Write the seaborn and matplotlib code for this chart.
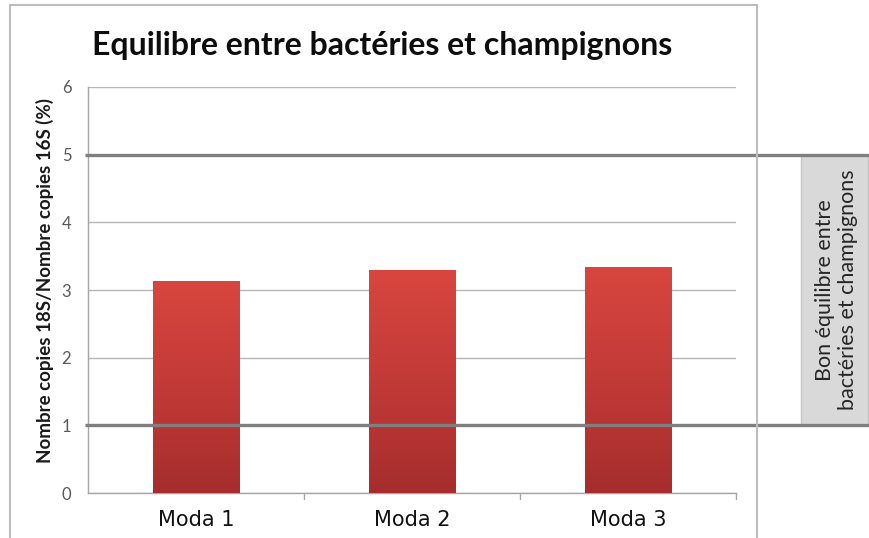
import matplotlib
matplotlib.use("Agg")
import matplotlib.pyplot as plt
import numpy as np
import pandas as pd
import seaborn as sns
from matplotlib.patches import Rectangle
from matplotlib.lines import Line2D
from matplotlib.colors import LinearSegmentedColormap

# data
categories = ["Moda 1", "Moda 2", "Moda 3"]
ratios = [3.14, 3.29, 3.34]
limits = [1, 5]          # band of good balance
yticks = [0, 1, 2, 3, 4, 5, 6]

df = pd.DataFrame({"moda": categories, "ratio": ratios})

sns.set_style("white")
plt.rcParams["font.family"] = ["Lato", "DejaVu Sans"]

fig = plt.figure(figsize=(8.7, 5.38), dpi=100)
ax = fig.add_axes([0.1011, 0.0836, 0.7448, 0.7547])

sns.barplot(data=df, x="moda", y="ratio", color="#c83a37", width=0.4,
            ax=ax, zorder=3)

# red gradient inside each bar
cmap = LinearSegmentedColormap.from_list("red", ["#a52d2d", "#c23a37", "#d8463f"])
grad = np.linspace(0, 1, 256).reshape(-1, 1)
for p in ax.patches:
    x0, y0 = p.get_x(), p.get_y()
    w, h = p.get_width(), p.get_height()
    im = ax.imshow(grad, cmap=cmap, origin="lower", aspect="auto",
                   extent=[x0, x0 + w, y0, y0 + h], zorder=4)
    im.set_clip_path(p)
    p.set_edgecolor("#9e2c2c")
    p.set_linewidth(0.6)

ax.set_xlim(-0.5, 2.5)
ax.set_ylim(0, 6)
ax.set_yticks(yticks)
ax.set_xlabel("")
ax.set_ylabel("")
ax.yaxis.grid(True, color="#b5b5b5", lw=1.0, zorder=0)
ax.xaxis.grid(False)
ax.set_axisbelow(True)

for s in ["top", "right"]:
    ax.spines[s].set_visible(False)
for s in ["left", "bottom"]:
    ax.spines[s].set_color("#a6a6a6")
    ax.spines[s].set_linewidth(1.0)

ax.tick_params(axis="y", length=4, color="#a6a6a6", pad=8,
               labelsize=12, labelcolor="#595959")
ax.set_xticks(range(len(categories)))
ax.set_xticklabels(categories, family="DejaVu Sans", fontsize=15, color="#111111")
ax.tick_params(axis="x", length=0, pad=12)
# ticks between categories
for b in [0.5, 1.5, 2.5]:
    ax.plot([b, b], [0, -0.09], color="#a6a6a6", lw=1.0, clip_on=False)

# thick lines at the band limits, running past the chart
ytr = ax.get_yaxis_transform()
for v in limits:
    ax.plot([-0.005, 1.21], [v, v], color="#7f7f7f", lw=2.4,
            transform=ytr, clip_on=False, zorder=6, solid_capstyle="butt")

# grey side box with the note
ax.add_patch(Rectangle((1.100, limits[0]), 0.104, limits[1] - limits[0],
                       transform=ytr, clip_on=False, facecolor="#d9d9d9",
                       edgecolor="#c4c4c4", lw=1.0, zorder=5))
ax.text(1.155, 3, "Bon équilibre entre\nbactéries et champignons",
        transform=ytr, rotation=90, ha="center", va="center",
        fontsize=15.5, color="#262626", linespacing=1.15, zorder=7)

# outer chart frame
frame = dict(color="#bdbdbd", lw=1.5, transform=fig.transFigure)
fig.add_artist(Line2D([0.0115, 0.870], [0.9907, 0.9907], **frame))
fig.add_artist(Line2D([0.0115, 0.0115], [0.0, 0.9907], **frame))
fig.add_artist(Line2D([0.870, 0.870], [0.0, 0.9907], **frame))

fig.text(0.439, 0.916, "Equilibre entre bactéries et champignons",
         ha="center", va="center", fontsize=23, fontweight="bold", color="#0d0d0d")
fig.text(0.052, 0.478, "Nombre copies 18S/Nombre copies 16S (%)",
         ha="center", va="center", rotation=90, fontsize=13.5,
         fontweight="bold", color="#1a1a1a")

fig.savefig("out.png", dpi=100)
